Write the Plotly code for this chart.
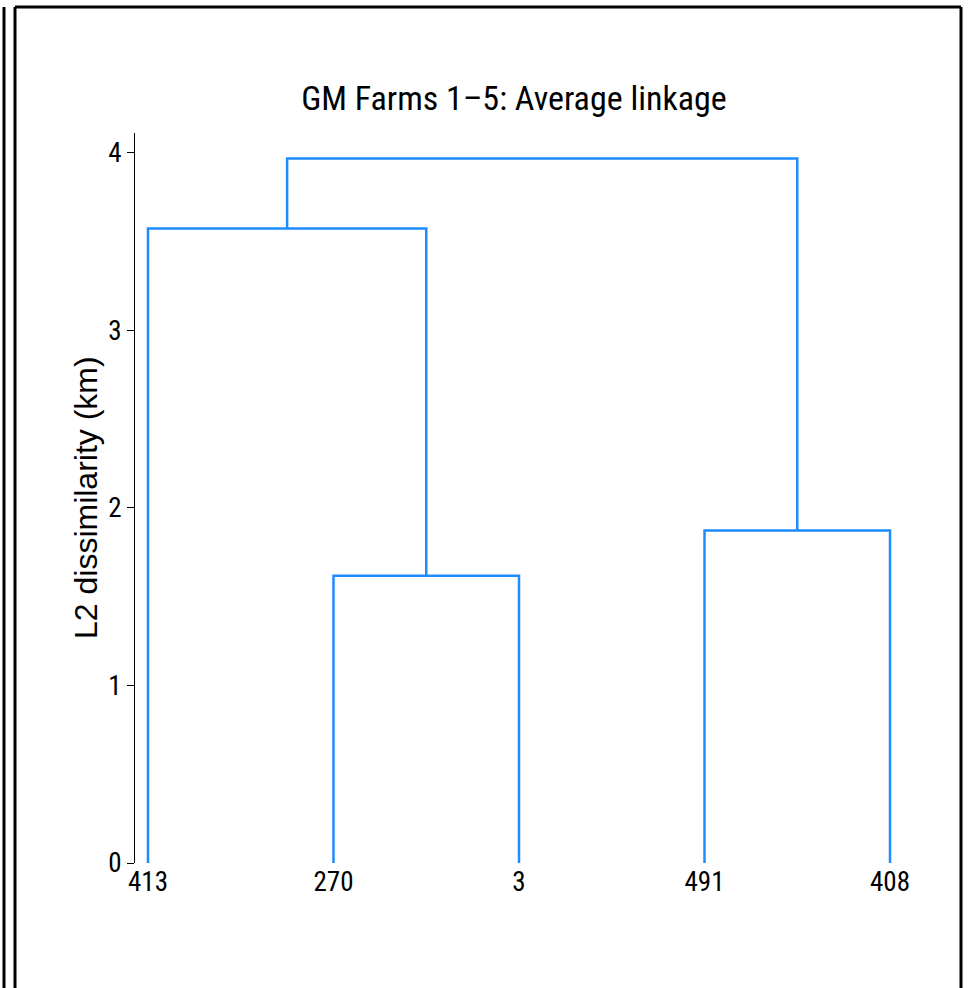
import plotly.graph_objects as go

# ---- data ----
leaf_labels = ["413", "270", "3", "491", "408"]
# merges: (left child, right child, height); children are leaf indices (0..4) or "c<k>" for cluster k
merge_left = [1, 3, 0, "c2"]
merge_right = [2, 4, "c0", "c1"]
merge_heights = [1.617, 1.872, 3.573, 3.967]
y_ticks = [0, 1, 2, 3, 4]

title_text = "GM Farms 1\u20135: Average linkage"
y_title = "L2 dissimilarity (km)"

# ---- build dendrogram links ----
W, H = 968, 988
ML, MR, MT, MB = 135, 65, 133, 125
pw, ph = W - ML - MR, H - MT - MB

def node_pos(n, clusters):
    if isinstance(n, str):
        return clusters[int(n[1:])]
    return (n, 0.0)

clusters = []
xs, ys = [], []
for l, r, h in zip(merge_left, merge_right, merge_heights):
    lx, ly = node_pos(l, clusters)
    rx, ry = node_pos(r, clusters)
    xs += [lx, lx, rx, rx, None]
    ys += [ly, h, h, ry, None]
    clusters.append(((lx + rx) / 2, h))

NARROW = "Liberation Sans Narrow, Arial Narrow, Roboto Condensed, Liberation Sans, Arial, sans-serif"
REG = "Liberation Sans, Arial, Helvetica, sans-serif"

fig = go.Figure()
fig.add_trace(go.Scatter(x=xs, y=ys, mode="lines",
                         line=dict(color="#1E8CFF", width=2.5),
                         hoverinfo="skip", showlegend=False))

def px_x(p):
    return (p - ML) / pw

def px_y(p):
    return (H - MB - p) / ph

border = dict(color="black", width=3)
shapes = [
    dict(type="line", xref="paper", yref="paper", x0=px_x(4), x1=px_x(4), y0=px_y(7), y1=px_y(1000), line=border),
    dict(type="line", xref="paper", yref="paper", x0=px_x(15), x1=px_x(15), y0=px_y(7), y1=px_y(1000), line=border),
    dict(type="line", xref="paper", yref="paper", x0=px_x(15), x1=px_x(961), y0=px_y(7), y1=px_y(7), line=border),
    dict(type="line", xref="paper", yref="paper", x0=px_x(961), x1=px_x(961), y0=px_y(7), y1=px_y(1000), line=border),
]

fig.update_layout(
    width=W, height=H,
    margin=dict(l=ML, r=MR, t=MT, b=MB),
    paper_bgcolor="white", plot_bgcolor="white",
    title=dict(text=title_text, x=514 / W, xanchor="center",
               y=1 - 98 / H, yanchor="middle", yref="container",
               font=dict(family=NARROW, size=34, color="black")),
    xaxis=dict(range=[-0.07, 4.07], tickvals=list(range(len(leaf_labels))), ticktext=leaf_labels,
               showline=False, showgrid=False, zeroline=False, ticks="",
               tickfont=dict(family=NARROW, size=27, color="black")),
    yaxis=dict(range=[0, 4.11], tickvals=y_ticks, showline=True, linecolor="black", linewidth=1,
               ticks="outside", ticklen=7, tickwidth=1, tickcolor="black",
               showgrid=False, zeroline=False,
               tickfont=dict(family=NARROW, size=27, color="black")),
    shapes=shapes,
    annotations=[dict(text=y_title, textangle=-90, xref="paper", yref="paper",
                      x=px_x(86), y=0.5, xanchor="center", yanchor="middle", showarrow=False,
                      font=dict(family=REG, size=32, color="black"))],
)

fig.write_html("out.html", config={"displayModeBar": False},
               post_script="document.body.style.margin='0';document.body.style.overflow='hidden';")
